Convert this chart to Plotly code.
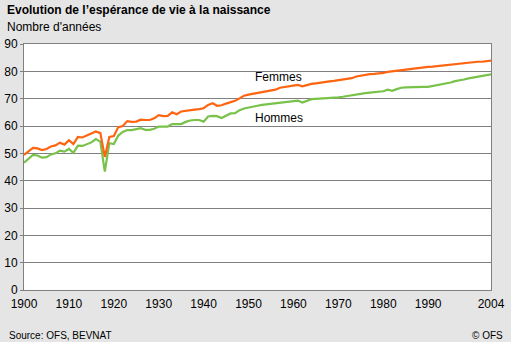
import plotly.graph_objects as go

# Années civiles 1900-2004
years = list(range(1900, 2005))

# Espérance de vie à la naissance, femmes (années)
femmes = [
    49.4, 50.8, 52.0, 51.8, 51.2, 51.6, 52.5, 52.9, 53.9, 53.2,
    54.8, 53.4, 56.0, 55.8, 56.6, 57.4, 58.0, 57.4, 48.7, 56.0,
    56.3, 59.6, 60.0, 61.8, 61.5, 61.6, 62.3, 62.2, 62.2, 62.8,
    64.0, 63.6, 63.7, 65.0, 64.3, 65.3, 65.6, 65.9, 66.0, 66.2,
    66.5, 67.7, 68.3, 67.4, 67.6, 68.2, 68.6, 69.2, 70.1, 71.1,
    71.5, 71.8, 72.1, 72.3, 72.7, 72.9, 73.3, 74.0, 74.3, 74.6,
    74.9, 75.0, 74.5, 75.0, 75.4, 75.6, 75.9, 76.0, 76.3, 76.5,
    76.8, 77.0, 77.3, 77.5, 78.1, 78.4, 78.9, 79.0, 79.1, 79.2,
    79.4, 79.8, 80.0, 80.3, 80.5, 80.7, 80.8, 81.2, 81.3, 81.4,
    81.6, 81.7, 81.9, 82.0, 82.3, 82.5, 82.6, 82.9, 83.0, 83.2,
    83.3, 83.5, 83.5, 83.7, 83.9,
]

# Espérance de vie à la naissance, hommes (années)
hommes = [
    46.6, 48.0, 49.4, 49.2, 48.4, 48.6, 49.6, 50.0, 51.0, 50.6,
    51.6, 50.2, 52.8, 52.7, 53.5, 54.0, 55.2, 54.3, 43.3, 53.7,
    53.4, 56.5, 57.8, 58.5, 58.5, 58.8, 59.2, 58.6, 58.6, 59.0,
    59.8, 59.8, 59.8, 60.7, 60.7, 60.7, 61.5, 62.0, 62.2, 62.2,
    61.6, 63.5, 63.7, 63.6, 62.9, 63.8, 64.6, 64.7, 65.8, 66.4,
    66.8, 67.2, 67.4, 67.7, 67.9, 68.1, 68.3, 68.5, 68.8, 69.0,
    69.2, 69.3, 68.6, 69.2, 69.8, 69.9, 70.0, 70.0, 70.1, 70.3,
    70.5, 70.7, 71.0, 71.3, 71.6, 71.7, 72.0, 72.2, 72.3, 72.5,
    72.7, 73.3, 72.9, 73.5, 74.0, 74.1, 74.2, 74.3, 74.3, 74.3,
    74.3, 74.6, 75.1, 75.3, 75.7, 75.9, 76.4, 76.6, 77.0, 77.4,
    77.7, 77.9, 78.2, 78.6, 78.9,
]

x_ticks = [1900, 1910, 1920, 1930, 1940, 1950, 1960, 1970, 1980, 1990, 2004]
y_ticks = [0, 10, 20, 30, 40, 50, 60, 70, 80, 90]

FONT = "Arial, Liberation Sans, sans-serif"
ORANGE = "#ff6410"
GREEN = "#78c24a"
GRID = "#808080"

fig = go.Figure()
fig.add_trace(go.Scatter(x=years, y=hommes, mode="lines", name="Hommes",
                         line=dict(color=GREEN, width=2.2)))
fig.add_trace(go.Scatter(x=years, y=femmes, mode="lines", name="Femmes",
                         line=dict(color=ORANGE, width=2.2)))

fig.update_layout(
    width=511, height=342,
    margin=dict(l=24, r=20, t=44, b=52),
    paper_bgcolor="#e5e5e5",
    plot_bgcolor="#ffffff",
    showlegend=False,
    font=dict(family=FONT, size=12, color="#000000"),
    xaxis=dict(
        range=[1900, 2004], tickvals=x_ticks, ticktext=[str(t) for t in x_ticks],
        showgrid=False, zeroline=False, showline=True, linecolor=GRID,
        linewidth=1, mirror=True, ticks="", tickfont=dict(size=12),
        automargin=False, ticklabelstandoff=3,
    ),
    yaxis=dict(
        range=[0, 90], tickvals=y_ticks, showgrid=True, gridcolor=GRID,
        gridwidth=1, zeroline=False, showline=True, linecolor=GRID,
        linewidth=1, mirror=True, ticks="outside", ticklen=3,
        tickcolor=GRID, tickfont=dict(size=12), automargin=False,
        ticklabelstandoff=0,
    ),
    annotations=[
        dict(text="<b>Evolution de l’espérance de vie à la naissance</b>",
             xref="paper", yref="paper", x=-0.041, y=1.138,
             xanchor="left", yanchor="middle", showarrow=False,
             font=dict(size=12)),
        dict(text="Nombre d'années", xref="paper", yref="paper",
             x=-0.041, y=1.069, xanchor="left", yanchor="middle",
             showarrow=False, font=dict(size=12)),
        dict(text="Femmes", x=1951.0, y=77.8, xanchor="left",
             yanchor="middle", showarrow=False, font=dict(size=12)),
        dict(text="Hommes", x=1951.0, y=62.9, xanchor="left",
             yanchor="middle", showarrow=False, font=dict(size=12)),
        dict(text="Source: OFS, BEVNAT", xref="paper", yref="paper",
             x=-0.037, y=-0.185, xanchor="left", yanchor="middle",
             showarrow=False, font=dict(size=10)),
        dict(text="© OFS", xref="paper", yref="paper", x=1.03, y=-0.185,
             xanchor="right", yanchor="middle", showarrow=False,
             font=dict(size=10)),
    ],
)

fig.write_html("out.html")
